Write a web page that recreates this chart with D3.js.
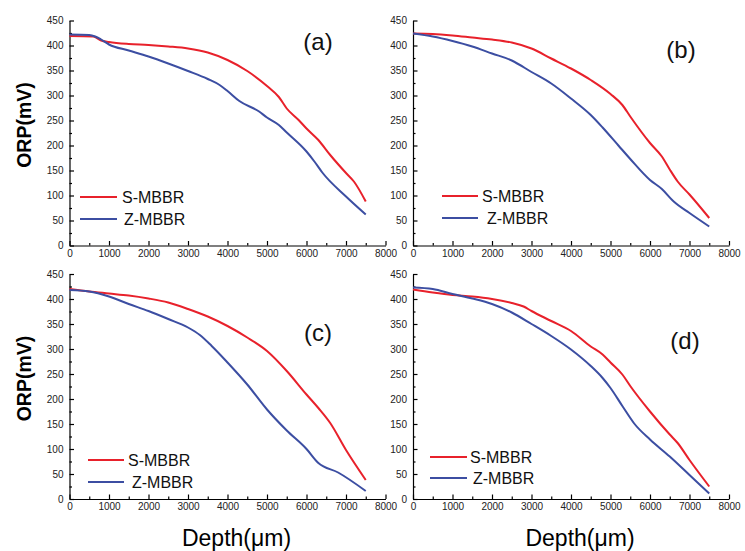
<!DOCTYPE html>
<html>
<head>
<meta charset="utf-8">
<script src="https://cdn.jsdelivr.net/npm/d3@7"></script>
<style>
  body { margin: 0; background: #fff; }
  svg { font-family: "Liberation Sans", Arial, sans-serif; }
  .axis path, .axis line { stroke: #000; stroke-width: 1.2; }
  .axis text { font-size: 10px; fill: #222; }
</style>
</head>
<body>
<svg id="chart" width="745" height="551"></svg>
<script>
// ---- data ----
var seriesNames = ['S-MBBR', 'Z-MBBR'];
var panelTags = ['(a)', '(b)', '(c)', '(d)'];
var xTicks = [0, 1000, 2000, 3000, 4000, 5000, 6000, 7000, 8000];
var yTicks = [0, 50, 100, 150, 200, 250, 300, 350, 400, 450];

// panel (a)
var depthA_S = [0, 600, 800, 1000, 1500, 2000, 2500, 3000, 3500, 4000, 4500, 5000, 5300, 5500, 5800, 6000, 6300, 6600, 7000, 7200, 7500];
var orpA_S   = [419, 418, 410, 407, 403, 401, 398, 394, 386, 371, 349, 319, 297, 274, 251, 234, 211, 181, 145, 128, 88];
var depthA_Z = [0, 500, 650, 800, 1000, 1500, 2000, 2500, 3000, 3500, 3800, 4000, 4300, 4800, 5000, 5300, 5500, 6000, 6200, 6400, 7000, 7500];
var orpA_Z   = [422, 421, 418, 412, 402, 390, 378, 364, 349, 333, 321, 309, 289, 268, 256, 241, 226, 188, 168, 146, 98, 62];

// panel (b)
var depthB_S = [0, 500, 1000, 1500, 2000, 2500, 3000, 3500, 4000, 4500, 5000, 5300, 5500, 6000, 6300, 6500, 6700, 7000, 7500];
var orpB_S   = [424, 423, 420, 416, 412, 406, 394, 374, 354, 331, 303, 281, 258, 205, 178, 152, 128, 102, 55];
var depthB_Z = [0, 500, 1000, 1500, 2000, 2500, 3000, 3500, 4000, 4500, 4800, 5200, 5500, 6000, 6300, 6600, 7000, 7500];
var orpB_Z   = [424, 418, 409, 398, 384, 370, 347, 324, 294, 261, 236, 200, 173, 131, 113, 88, 65, 38];

// panel (c)
var depthC_S = [0, 500, 1000, 1500, 2000, 2500, 3000, 3500, 4000, 4500, 5000, 5500, 6000, 6300, 6600, 7000, 7500];
var orpC_S   = [420, 415, 411, 407, 401, 393, 380, 365, 346, 323, 296, 256, 209, 182, 152, 98, 38];
var depthC_Z = [0, 500, 1000, 1500, 2000, 2500, 3000, 3300, 3600, 4000, 4500, 5000, 5500, 6000, 6300, 6800, 7500];
var orpC_Z   = [418, 415, 405, 390, 376, 360, 343, 328, 306, 273, 229, 179, 137, 100, 72, 53, 16];

// panel (d)
var depthD_S = [0, 500, 1000, 1500, 2000, 2500, 2800, 3000, 3500, 4000, 4500, 4800, 5000, 5300, 5500, 6000, 6500, 6700, 7000, 7500];
var orpD_S   = [419, 413, 408, 405, 400, 392, 385, 376, 356, 336, 305, 289, 273, 249, 226, 175, 129, 112, 78, 25];
var depthD_Z = [0, 500, 1000, 1500, 2000, 2500, 3000, 3500, 4000, 4500, 4800, 5000, 5300, 5600, 6000, 6500, 7000, 7500];
var orpD_Z   = [423, 420, 410, 401, 390, 373, 350, 326, 299, 266, 242, 222, 186, 151, 119, 85, 48, 11];

var zip = (xs, ys) => xs.map((d, i) => ({depth: d, orp: ys[i]}));

// ---- layout ----
var colors = ['#e8212b', '#3c4ea2'];
var plotW = 316, plotH = 225;
var panels = [
    {left: 69.5, top: 20.5, tag: panelTags[0], series: [zip(depthA_S, orpA_S), zip(depthA_Z, orpA_Z)],
     tagPos: [318, 50], leg: {x1: 80, x2: 117, y: [197, 219], tx: [122, 124]}, yLabel: true, xLabel: false},
    {left: 413, top: 20.5, tag: panelTags[1], series: [zip(depthB_S, orpB_S), zip(depthB_Z, orpB_Z)],
     tagPos: [681, 58], leg: {x1: 442, x2: 478, y: [196, 218], tx: [482, 487]}, yLabel: false, xLabel: false},
    {left: 69.5, top: 274, tag: panelTags[2], series: [zip(depthC_S, orpC_S), zip(depthC_Z, orpC_Z)],
     tagPos: [318, 341], leg: {x1: 88, x2: 124, y: [460, 482], tx: [128, 132]}, yLabel: true, xLabel: true},
    {left: 413, top: 274, tag: panelTags[3], series: [zip(depthD_S, orpD_S), zip(depthD_Z, orpD_Z)],
     tagPos: [685, 349], leg: {x1: 430, x2: 467, y: [457, 478], tx: [470, 473]}, yLabel: false, xLabel: true}
];

var svg = d3.select('#chart');

var minorX = d3.range(500, 8000, 1000);
var minorY = d3.range(25, 450, 50);
var fmt = d3.format('d');

panels.forEach(p => {
    var x = d3.scaleLinear().domain([0, 8000]).range([p.left, p.left + plotW]);
    var y = d3.scaleLinear().domain([0, 450]).range([p.top + plotH, p.top]);
    var g = svg.append('g');

    // minor ticks
    g.append('g').attr('class', 'axis')
        .attr('transform', 'translate(0,' + (p.top + plotH) + ')')
        .call(d3.axisBottom(x).tickValues(minorX).tickSize(-2.5).tickSizeOuter(0).tickFormat(''))
        .select('.domain').remove();
    g.append('g').attr('class', 'axis')
        .attr('transform', 'translate(' + p.left + ',0)')
        .call(d3.axisLeft(y).tickValues(minorY).tickSize(-2.5).tickSizeOuter(0).tickFormat(''))
        .select('.domain').remove();

    // major axes
    g.append('g').attr('class', 'axis')
        .attr('transform', 'translate(0,' + (p.top + plotH) + ')')
        .call(d3.axisBottom(x).tickValues(xTicks).tickFormat(fmt).tickSize(-4.5).tickSizeOuter(0).tickPadding(4));
    g.append('g').attr('class', 'axis')
        .attr('transform', 'translate(' + p.left + ',0)')
        .call(d3.axisLeft(y).tickValues(yTicks).tickFormat(fmt).tickSize(-4.5).tickSizeOuter(0).tickPadding(6));

    var line = d3.line()
        .x(d => x(d.depth))
        .y(d => y(d.orp))
        .curve(d3.curveMonotoneX);

    p.series.forEach((s, i) => {
        g.append('path')
            .datum(s)
            .attr('d', line)
            .attr('fill', 'none')
            .attr('stroke', colors[i])
            .attr('stroke-width', 2);
    });

    // legend
    seriesNames.forEach((name, i) => {
        g.append('line')
            .attr('x1', p.leg.x1).attr('x2', p.leg.x2)
            .attr('y1', p.leg.y[i]).attr('y2', p.leg.y[i])
            .attr('stroke', colors[i]).attr('stroke-width', 2.2);
        g.append('text')
            .attr('x', p.leg.tx[i]).attr('y', p.leg.y[i] + 5.5)
            .attr('font-size', 16).attr('fill', '#111')
            .text(name);
    });

    g.append('text')
        .attr('x', p.tagPos[0]).attr('y', p.tagPos[1])
        .attr('text-anchor', 'middle')
        .attr('font-size', 24).attr('fill', '#111')
        .text(p.tag);

    if (p.yLabel) {
        var cy = p.top + plotH / 2 - 8;
        g.append('text')
            .attr('transform', 'translate(31,' + cy + ') rotate(-90)')
            .attr('text-anchor', 'middle')
            .attr('font-size', 19.5).attr('font-weight', 'bold').attr('fill', '#000')
            .text('ORP(mV)');
    }
    if (p.xLabel) {
        g.append('text')
            .attr('x', p.left + plotW / 2 + 9).attr('y', 546)
            .attr('text-anchor', 'middle')
            .attr('font-size', 23).attr('fill', '#000')
            .text('Depth(μm)');
    }
});
</script>
</body>
</html>
